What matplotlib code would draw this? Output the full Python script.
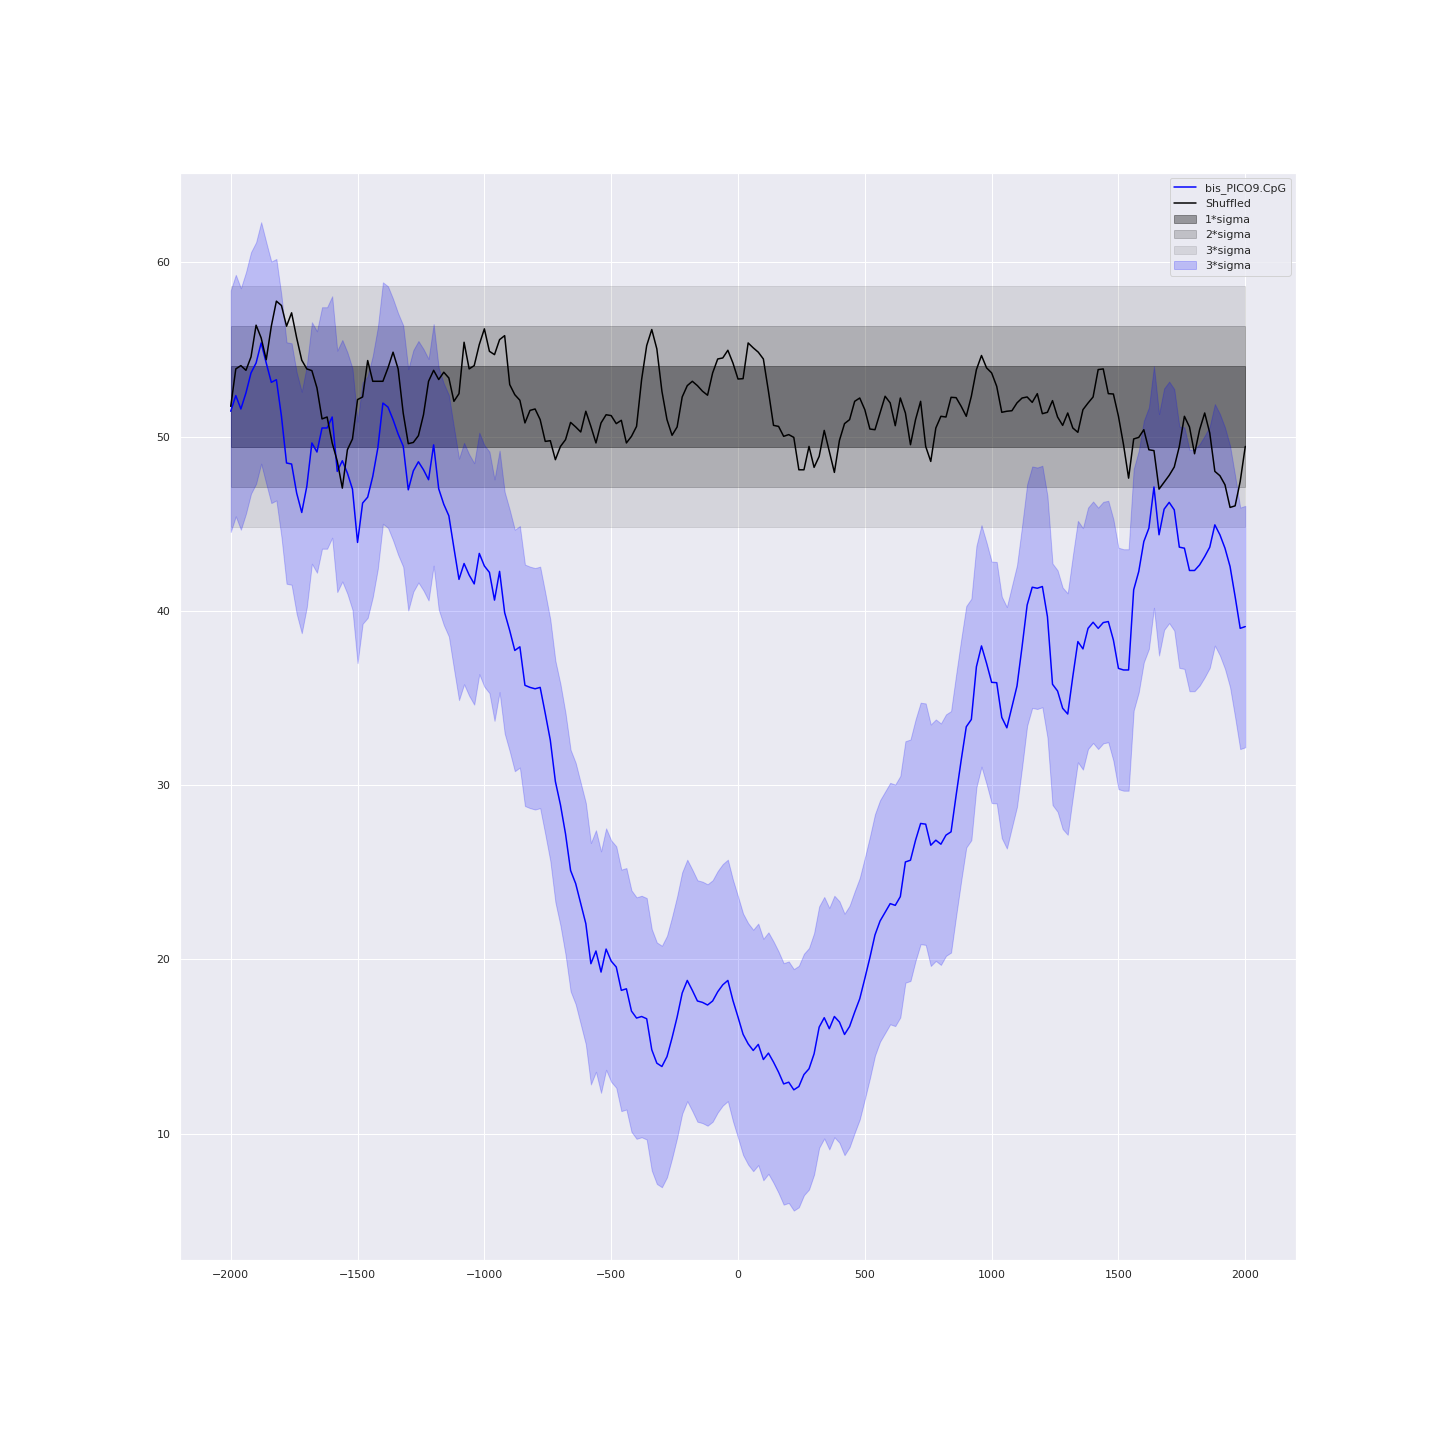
import numpy as np
import matplotlib
matplotlib.use("Agg")
import matplotlib.pyplot as plt
import seaborn as sns

sns.set_theme(style="darkgrid")

# distance axis, one point every 20 bp
pos = np.arange(-2000, 2001, 20)

# bis_PICO9.CpG signal
pico9 = [
    51.46, 52.36, 51.59, 52.51, 53.66, 54.23, 55.38, 54.23, 53.12, 53.27,
    51.17, 48.49, 48.43, 46.76, 45.65, 47.15, 49.64, 49.12, 50.50, 50.50,
    51.13, 48.01, 48.62, 47.91, 46.99, 43.93, 46.19, 46.53, 47.72, 49.35,
    51.93, 51.70, 50.98, 50.15, 49.46,
    46.95, 48.04, 48.56, 48.10, 47.53, 49.53, 47.01, 46.12, 45.46, 43.61,
    41.81, 42.72, 42.06, 41.55, 43.30, 42.58, 42.21, 40.62, 42.27, 39.90,
    38.87, 37.73, 37.94, 35.73, 35.61, 35.53, 35.61, 34.12, 32.58, 30.21,
    28.87, 27.20, 25.10,
    24.35, 23.20, 22.05, 19.75, 20.48, 19.27, 20.59, 19.90, 19.56, 18.22,
    18.31, 17.03, 16.63, 16.72, 16.59, 14.81, 14.04, 13.85, 14.42, 15.50,
    16.69, 18.07, 18.79, 18.22, 17.61, 17.53, 17.38, 17.61, 18.14, 18.54,
    18.79, 17.64,
    16.69, 15.70, 15.15, 14.77, 15.12, 14.25, 14.62, 14.10, 13.52, 12.85,
    12.95, 12.51, 12.70, 13.39, 13.72, 14.58, 16.11, 16.65, 16.02, 16.72,
    16.40, 15.69, 16.15, 16.97, 17.74,
    18.90, 20.10, 21.40, 22.20, 22.70, 23.20, 23.10, 23.60,
    25.59, 25.69, 26.84, 27.80, 27.76, 26.55, 26.84, 26.61, 27.13, 27.32,
    29.42, 31.44, 33.35, 33.77, 36.80, 37.99, 36.99, 35.90, 35.88, 33.89,
    33.29, 34.50, 35.69, 37.95, 40.34, 41.36, 41.30, 41.40, 39.67, 35.79,
    35.40, 34.41, 34.08, 36.23,
    38.24, 37.82, 39.00, 39.35, 39.00, 39.33, 39.39, 38.33, 36.70, 36.61,
    36.61, 41.21, 42.26, 43.98, 44.75, 47.11, 44.37, 45.84, 46.23, 45.80,
    43.66, 43.60, 42.32, 42.32, 42.64, 43.12, 43.66, 44.94, 44.37, 43.60,
    42.55, 40.82, 39.00, 39.10,
]

# shuffled control
shuffled = [
    51.74, 53.89, 54.08, 53.81, 54.58, 56.40, 55.67, 54.42, 56.34, 57.78,
    57.53, 56.34, 57.11, 55.67, 54.39, 53.89, 53.79, 52.80, 51.02, 51.13,
    49.64, 48.60, 47.05, 49.25, 49.87, 52.13, 52.28, 54.37, 53.18, 53.18,
    53.18, 53.95, 54.85, 53.89, 51.36, 49.60, 49.67, 50.06, 51.26, 53.18,
    53.81, 53.28, 53.70, 53.37, 52.03, 52.47, 55.42, 53.89, 54.08, 55.29,
    56.19, 54.90, 54.71, 55.57, 55.80, 52.99, 52.41, 52.09, 50.79, 51.51,
    51.59, 50.98, 49.73, 49.77, 48.68, 49.44, 49.83,
    50.82, 50.56, 50.27, 51.46, 50.59, 49.64, 50.79, 51.26, 51.21, 50.75,
    50.94, 49.64, 50.02, 50.59, 53.28, 55.23, 56.15, 55.04, 52.61, 50.98,
    50.08, 50.56, 52.28, 52.93, 53.18, 52.93, 52.61, 52.38, 53.66, 54.46,
    54.52, 54.96, 54.23, 53.31, 53.33, 55.38, 55.10, 54.85, 54.46, 52.61,
    50.65, 50.59, 50.02, 50.12, 49.96, 48.10, 48.10, 49.44, 48.24, 48.87,
    50.36, 49.16, 47.95, 49.79, 50.75, 50.98, 52.03, 52.22, 51.55, 50.44,
    50.40, 51.36, 52.32, 51.94, 50.63, 52.22, 51.36,
    49.54, 50.98, 52.03, 49.44, 48.58, 50.50, 51.17, 51.13, 52.26, 52.24,
    51.74, 51.17, 52.32, 53.85, 54.66, 53.95, 53.66, 52.89, 51.40, 51.46,
    51.49, 51.94, 52.22, 52.28, 51.97, 52.47, 51.32, 51.40, 52.07, 51.13,
    50.65, 51.36, 50.50,
    50.25, 51.55, 51.93, 52.28, 53.85, 53.89, 52.47, 52.45, 51.17, 49.54,
    47.62, 49.87, 49.96, 50.40, 49.25, 49.20, 46.99, 47.38, 47.78, 48.26,
    49.44, 51.17, 50.56, 49.02, 50.40, 51.36, 50.21, 48.01, 47.76, 47.24,
    45.94, 46.03, 47.43, 49.44,
]

shuf_mean = 51.72
shuf_sd = 2.31

pico9 = np.array(pico9)
shuffled = np.array(shuffled)

fig = plt.figure(figsize=(20, 20), dpi=72)
ax = fig.add_subplot(111)
fig.subplots_adjust(left=0.125, right=0.9, top=0.88, bottom=0.125)

ax.plot(pos, pico9, color="blue", label="bis_PICO9.CpG")
ax.plot(pos, shuffled, color="black", label="Shuffled")

lo = np.full(len(pos), shuf_mean)
ax.fill_between(pos, lo - shuf_sd, lo + shuf_sd, color="k", alpha=0.4, label="1*sigma")
ax.fill_between(pos, lo - 2 * shuf_sd, lo + 2 * shuf_sd, color="k", alpha=0.2, label="2*sigma")
ax.fill_between(pos, lo - 3 * shuf_sd, lo + 3 * shuf_sd, color="k", alpha=0.1, label="3*sigma")
ax.fill_between(pos, pico9 - 3 * shuf_sd, pico9 + 3 * shuf_sd, color="blue", alpha=0.2, label="3*sigma")

ax.legend(loc="upper right")

fig.savefig("out.png", dpi=72)
